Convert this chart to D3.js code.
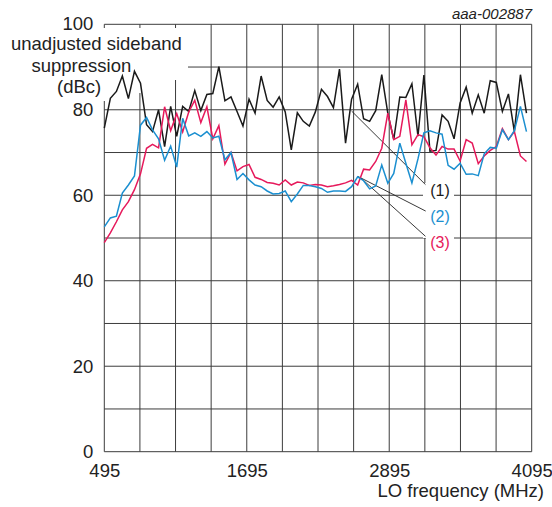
<!DOCTYPE html>
<html>
<head>
<meta charset="utf-8">
<script src="https://cdn.jsdelivr.net/npm/d3@7"></script>
<style>
  body { margin: 0; background: #fff; }
  svg { display: block; font-family: "Liberation Sans", Arial, sans-serif; }
</style>
</head>
<body>
<svg id="chart" width="552" height="507"></svg>
<script>
// LO frequency sample points (MHz)
const loFreq = [495, 546, 597, 647, 698, 749, 800, 851, 901, 952,
    1003, 1054, 1105, 1155, 1206, 1257, 1308, 1359, 1409, 1460,
    1511, 1562, 1613, 1663, 1714, 1765, 1816, 1867, 1917, 1968,
    2019, 2070, 2121, 2171, 2222, 2273, 2324, 2375, 2425, 2476,
    2527, 2578, 2629, 2679, 2730, 2781, 2832, 2883, 2933, 2984,
    3035, 3086, 3137, 3187, 3238, 3289, 3340, 3391, 3441, 3492,
    3543, 3594, 3645, 3695, 3746, 3797, 3848, 3899, 3949, 4000, 4051];

// (1) black
const curve1 = [75.7, 82.7, 84.3, 87.9, 82.6, 89.0, 86.2, 76.5, 74.9, 80.0,
    71.4, 80.8, 73.8, 80.8, 79.6, 84.5, 79.8, 83.6, 83.8, 90.1,
    82.1, 83.0, 79.6, 76.2, 82.5, 79.2, 87.9, 82.2, 80.6, 83.0,
    79.5, 70.6, 79.3, 77.3, 76.2, 79.5, 84.8, 83.1, 80.5, 89.5,
    72.2, 82.5, 86.0, 77.9, 77.3, 79.8, 88.2, 79.2, 73.0, 83.0,
    82.9, 86.1, 73.8, 88.1, 70.3, 70.5, 78.8, 77.3, 73.2, 81.6,
    85.3, 79.2, 83.5, 79.2, 86.8, 86.4, 79.6, 83.7, 74.9, 88.2, 79.2];

// (2) blue
const curve2 = [52.6, 54.7, 55.1, 60.5, 62.4, 64.5, 76.4, 78.2, 75.3, 73.2,
    68.2, 71.5, 66.6, 78.0, 73.9, 74.6, 73.8, 74.9, 73.4, 73.8,
    68.3, 70.0, 63.7, 65.1, 63.6, 62.4, 62.0, 61.0, 60.3, 60.4,
    61.0, 58.5, 60.3, 62.3, 62.3, 62.0, 61.6, 60.7, 61.0, 61.0,
    60.9, 62.0, 64.3, 63.4, 61.5, 62.2, 67.1, 62.8, 65.1, 72.2,
    67.5, 62.9, 68.5, 74.6, 75.1, 74.6, 74.3, 67.0, 66.1, 67.5,
    64.9, 65.0, 64.6, 69.7, 71.2, 71.0, 75.3, 73.0, 75.1, 80.8, 74.9];

// (3) red
const curve3 = [48.9, 51.2, 53.8, 56.6, 58.5, 61.3, 65.0, 71.0, 71.9, 71.1,
    80.7, 75.1, 79.1, 74.8, 79.5, 82.2, 77.0, 80.7, 73.2, 76.3,
    67.3, 70.0, 65.7, 66.7, 67.2, 64.2, 63.7, 63.0, 62.8, 62.4,
    63.6, 62.4, 63.1, 62.9, 62.3, 62.5, 62.4, 62.0, 62.2, 62.5,
    62.9, 63.5, 62.4, 66.1, 65.9, 67.9, 71.0, 79.2, 73.0, 73.8,
    82.3, 71.8, 74.2, 73.7, 71.1, 69.4, 71.4, 70.8, 70.8, 68.0,
    73.0, 72.2, 67.4, 69.2, 70.5, 71.4, 75.6, 73.0, 74.9, 69.2, 67.9];

const xGrid = [495, 795, 1095, 1395, 1695, 1995, 2295, 2595, 2895, 3195, 3495, 3795, 4095];
const yGrid = [0, 10, 20, 30, 40, 50, 60, 70, 80, 90, 100];
const xTickLabels = [495, 1695, 2895, 4095];
const yTickLabels = [0, 20, 40, 60, 80, 100];

const seriesNames = ["(1)", "(2)", "(3)"];
const seriesColors = ["#1a1a1a", "#1b8fd0", "#e6195b"];

// leader lines: [fromFreq, fromValue, toFreq, toValue]
const leaders = [
    [2578, 79.7, 3200, 62.5],
    [2632, 64.4, 3202, 56.3],
    [2649, 64.2, 3200, 50.4]
];
const labelPos = [[3240, 59.8], [3240, 53.8], [3240, 47.7]];

let svg = d3.select("#chart");
const plotLeft = 104.3, plotRight = 531.7, plotTop = 24.3, plotBottom = 451.7;

let x = d3.scaleLinear().domain([495, 4095]).range([plotLeft, plotRight]);
let y = d3.scaleLinear().domain([0, 100]).range([plotBottom, plotTop]);

// grid
let grid = svg.append("g").attr("stroke", "#3c3c3c").attr("stroke-width", 1);
grid.selectAll("line.v").data(xGrid).enter().append("line")
    .attr("class", "v")
    .attr("x1", d => x(d)).attr("x2", d => x(d))
    .attr("y1", plotTop).attr("y2", plotBottom);
grid.selectAll("line.h").data(yGrid).enter().append("line")
    .attr("class", "h")
    .attr("x1", plotLeft).attr("x2", plotRight)
    .attr("y1", d => y(d)).attr("y2", d => y(d));

// white backing behind the y title and the curve labels
let masks = svg.append("g").attr("fill", "#fff");
masks.append("rect").attr("x", 0).attr("y", 28).attr("width", 188).attr("height", 52);
masks.append("rect").attr("x", 0).attr("y", 80).attr("width", 143).attr("height", 13);
masks.append("rect").attr("x", 0).attr("y", 93).attr("width", 106).attr("height", 8);
masks.append("rect").attr("x", 423).attr("y", 183).attr("width", 31).attr("height", 55);
masks.append("rect").attr("x", 426).attr("y", 236).attr("width", 28).attr("height", 15);

// leader lines
svg.append("g").selectAll("line").data(leaders).enter().append("line")
    .attr("x1", d => x(d[0])).attr("y1", d => y(d[1]))
    .attr("x2", d => x(d[2])).attr("y2", d => y(d[3]))
    .attr("stroke", "#222").attr("stroke-width", 0.9);

// curves
let line = d3.line()
    .x((d, i) => x(loFreq[i]))
    .y(d => y(d));

[curve1, curve3, curve2].forEach(function (vals) {
    let idx = [curve1, curve2, curve3].indexOf(vals);
    svg.append("path")
        .datum(vals)
        .attr("fill", "none")
        .attr("stroke", seriesColors[idx])
        .attr("stroke-width", 1.5)
        .attr("stroke-linejoin", "miter")
        .attr("d", line);
});

// axes labels
let xAxis = d3.axisBottom(x).tickValues(xTickLabels).tickSize(0).tickPadding(0).tickFormat(d3.format("d"));
let gx = svg.append("g").attr("transform", "translate(0," + plotBottom + ")").call(xAxis);
gx.select(".domain").remove();
gx.selectAll("text").attr("dy", null).attr("y", 25).attr("font-size", 18.5)
    .attr("fill", "#222").attr("font-family", null);

let yAxis = d3.axisLeft(y).tickValues(yTickLabels).tickSize(0).tickPadding(11);
let gy = svg.append("g").attr("transform", "translate(" + plotLeft + ",0)").call(yAxis);
gy.select(".domain").remove();
gy.selectAll("text").attr("font-size", 18.5).attr("fill", "#222").attr("font-family", null)
    .attr("dy", d => d === 100 ? "0.26em" : "0.32em");

// titles
let t = svg.append("g").attr("font-size", 18.5).attr("fill", "#222");
t.append("text").attr("x", 11).attr("y", 50).text("unadjusted sideband");
t.append("text").attr("x", 31.5).attr("y", 71.5).text("suppression");
t.append("text").attr("x", 57).attr("y", 93.3).text("(dBc)");
t.append("text").attr("x", 544).attr("y", 496.5).attr("text-anchor", "end").text("LO frequency (MHz)");

svg.append("text").attr("x", 532).attr("y", 18.5).attr("text-anchor", "end")
    .attr("font-size", 15).attr("font-style", "italic").attr("fill", "#222")
    .text("aaa-002887");

// curve labels
svg.append("g").selectAll("text").data(labelPos).enter().append("text")
    .attr("x", d => x(d[0])).attr("y", d => y(d[1]))
    .attr("font-size", 16)
    .attr("fill", (d, i) => seriesColors[i])
    .text((d, i) => seriesNames[i]);
</script>
</body>
</html>
